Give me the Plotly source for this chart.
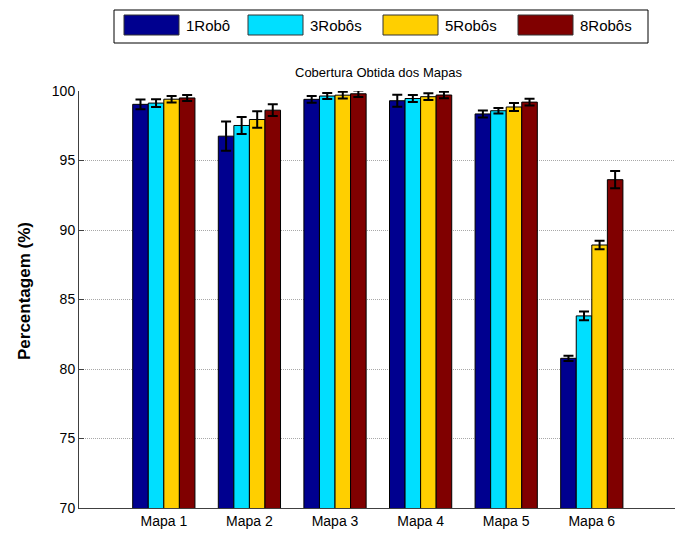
import plotly.graph_objects as go

# Coverage obtained per map, for each team size
maps = ["Mapa 1", "Mapa 2", "Mapa 3", "Mapa 4", "Mapa 5", "Mapa 6"]
series_names = ["1Robô", "3Robôs", "5Robôs", "8Robôs"]
series_colors = ["#00008F", "#00DFFF", "#FFCF00", "#800000"]

cov_1 = [99.04, 96.75, 99.40, 99.30, 98.35, 80.77]
cov_3 = [99.13, 97.52, 99.64, 99.46, 98.58, 83.82]
cov_5 = [99.41, 97.95, 99.70, 99.59, 98.85, 88.92]
cov_8 = [99.50, 98.62, 99.80, 99.71, 99.20, 93.62]

err_1 = [0.35, 1.05, 0.24, 0.43, 0.25, 0.19]
err_3 = [0.28, 0.61, 0.22, 0.25, 0.20, 0.31]
err_5 = [0.23, 0.59, 0.24, 0.24, 0.29, 0.30]
err_8 = [0.22, 0.42, 0.23, 0.24, 0.24, 0.62]

values = [cov_1, cov_3, cov_5, cov_8]
errors = [err_1, err_3, err_5, err_8]

y_ticks = [70, 75, 80, 85, 90, 95, 100]

W, H = 675, 533
ML, MR, MT, MB = 79, 0, 91, 25
FONT = "Liberation Sans, Arial, sans-serif"

fig = go.Figure()
xpos = list(range(1, len(maps) + 1))
for name, color, vals, errs in zip(series_names, series_colors, values, errors):
    fig.add_trace(go.Bar(
        x=xpos, y=vals, name=name,
        marker=dict(color=color, line=dict(color="black", width=1)),
        error_y=dict(type="data", array=errs, visible=True,
                     color="black", thickness=2, width=5),
        showlegend=False,
    ))

# Pixel -> paper helpers for the boxed legend and labels
pw = W - ML - MR
ph = H - MT - MB


def px_x(px):
    return (px - ML) / pw


def px_y(py):
    return (H - MB - py) / ph


shapes = []
annotations = []

# Legend frame
shapes.append(dict(type="rect", xref="paper", yref="paper",
                   x0=px_x(114), x1=px_x(648), y0=px_y(43), y1=px_y(10),
                   line=dict(color="black", width=1), fillcolor="white"))
swatch_x = [124, 248, 383, 518]
for sx, name, color in zip(swatch_x, series_names, series_colors):
    shapes.append(dict(type="rect", xref="paper", yref="paper",
                       x0=px_x(sx), x1=px_x(sx + 55), y0=px_y(35), y1=px_y(15),
                       line=dict(color="#333333", width=1), fillcolor=color))
    annotations.append(dict(xref="paper", yref="paper", x=px_x(sx + 60), y=px_y(25.5),
                            text=name, showarrow=False, xanchor="left", yanchor="middle",
                            font=dict(family=FONT, size=15, color="black")))

# Chart title
annotations.append(dict(xref="paper", yref="paper", x=px_x(378), y=px_y(72),
                        text="Cobertura Obtida dos Mapas", showarrow=False,
                        xanchor="center", yanchor="middle",
                        font=dict(family=FONT, size=13, color="black")))
# Y axis title
annotations.append(dict(xref="paper", yref="paper", x=px_x(24), y=px_y(291),
                        text="<b>Percentagem (%)</b>", showarrow=False, textangle=-90,
                        xanchor="center", yanchor="middle",
                        font=dict(family=FONT, size=17, color="black")))

fig.update_layout(
    width=W, height=H, autosize=False,
    margin=dict(l=ML, r=MR, t=MT, b=MB, pad=0),
    paper_bgcolor="white", plot_bgcolor="white",
    barmode="group", bargap=0.273, bargroupgap=0,
    shapes=shapes, annotations=annotations,
    font=dict(family=FONT, color="black"),
    xaxis=dict(range=[0.009, 6.972], tickvals=xpos, ticktext=maps,
               showgrid=False, zeroline=False, showline=True,
               linecolor="#404040", linewidth=1, ticks="",
               tickfont=dict(family=FONT, size=14, color="black")),
    yaxis=dict(range=[70, 100], tickvals=y_ticks,
               showgrid=True, gridcolor="#a8a8a8", griddash="1px,1px", gridwidth=1,
               zeroline=False, showline=True, linecolor="#404040", linewidth=1,
               ticks="inside", ticklen=5, tickcolor="#404040",
               tickfont=dict(family=FONT, size=14, color="black")),
)

fig.write_html("out.html")
